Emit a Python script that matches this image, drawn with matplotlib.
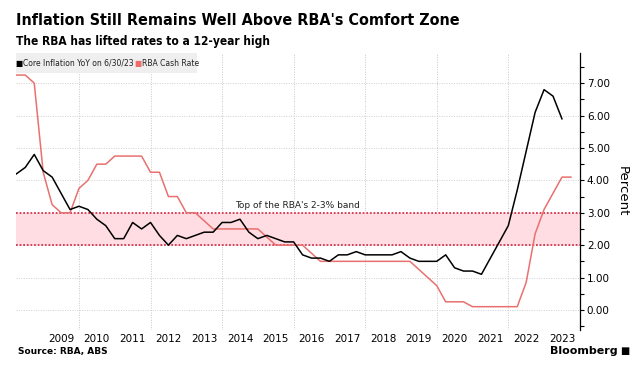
import matplotlib
matplotlib.use("Agg")
import matplotlib.pyplot as plt
from matplotlib.patches import Rectangle
import numpy as np

# quarterly observations, first quarter end = Mar 2008
start_year = 2008.25
core_inflation = [4.2, 4.4, 4.8, 4.3, 4.1, 3.6, 3.1, 3.2, 3.1, 2.8, 2.6, 2.2,
                  2.2, 2.7, 2.5, 2.7, 2.3, 2.0, 2.3, 2.2, 2.3, 2.4, 2.4, 2.7,
                  2.7, 2.8, 2.4, 2.2, 2.3, 2.2, 2.1, 2.1, 1.7, 1.6, 1.6, 1.5,
                  1.7, 1.7, 1.8, 1.7, 1.7, 1.7, 1.7, 1.8, 1.6, 1.5, 1.5, 1.5,
                  1.7, 1.3, 1.2, 1.2, 1.1, 1.6, 2.1, 2.6, 3.7, 4.9, 6.1, 6.8,
                  6.6, 5.9]
cash_rate = [7.25, 7.25, 7.0, 4.25, 3.25, 3.0, 3.0, 3.75, 4.0, 4.5, 4.5, 4.75,
             4.75, 4.75, 4.75, 4.25, 4.25, 3.5, 3.5, 3.0, 3.0, 2.75, 2.5, 2.5,
             2.5, 2.5, 2.5, 2.5, 2.25, 2.0, 2.0, 2.0, 2.0, 1.75, 1.5, 1.5,
             1.5, 1.5, 1.5, 1.5, 1.5, 1.5, 1.5, 1.5, 1.5, 1.25, 1.0, 0.75,
             0.25, 0.25, 0.25, 0.10, 0.10, 0.10, 0.10, 0.10, 0.10, 0.85, 2.35, 3.10,
             3.60, 4.10, 4.10]
band_low, band_high = 2.0, 3.0
year_labels = list(range(2009, 2024))
y_ticks = [0, 1, 2, 3, 4, 5, 6, 7]

t_core = start_year + 0.25 * np.arange(len(core_inflation))
t_cash = start_year + 0.25 * np.arange(len(cash_rate))

fig = plt.figure(figsize=(6.4, 3.71), dpi=100)
ax = fig.add_axes([0.025, 0.1105, 0.881, 0.7465])

ax.axhspan(band_low, band_high, color="#ffdde3", lw=0, zorder=1)
for lvl in (band_low, band_high):
    ax.axhline(lvl, color="#d6334f", lw=1.3, ls=(0, (1, 1)), zorder=2)

ax.plot(t_cash, cash_rate, color="#e8716f", lw=1.1, zorder=3)
ax.plot(t_core, core_inflation, color="black", lw=1.1, zorder=4)

ax.text(2016.1, 3.1, "Top of the RBA's 2-3% band", fontsize=6.5,
        ha="center", va="bottom", color="#222222", zorder=5)

ax.set_xlim(2008.24, 2024.0)
ax.set_ylim(-0.62, 7.93)

ax.set_xticks([y + 0.5 for y in year_labels])
ax.set_xticklabels([str(y) for y in year_labels], fontsize=7.5)
ax.tick_params(axis="x", length=0, pad=3)
for g in range(2010, 2024, 2):
    ax.axvline(g, color="#c8c8c8", lw=0.7, ls=(0, (1, 1.5)), zorder=0)

ax.yaxis.tick_right()
ax.yaxis.set_label_position("right")
ax.set_yticks(y_ticks)
ax.set_yticklabels([f"{v:.2f}" for v in y_ticks], fontsize=7.5)
ax.set_yticks([v + 0.5 for v in range(-1, 8)], minor=True)
ax.tick_params(axis="y", which="both", direction="out", length=3, width=0.8, pad=2)
ax.set_ylabel("Percent", fontsize=9.5, rotation=270, labelpad=14)
for v in y_ticks:
    ax.axhline(v, color="#cfcfcf", lw=0.7, ls=(0, (1, 1.5)), zorder=0)

for s in ("left", "top", "bottom"):
    ax.spines[s].set_visible(False)
ax.spines["right"].set_linewidth(0.9)

# legend box
fig.patches.append(Rectangle((0.025, 0.803), 0.283, 0.054, transform=fig.transFigure,
                             facecolor="#efefef", edgecolor="none", zorder=5))
leg = dict(fontsize=6.1, va="center", zorder=6, fontstretch="condensed")
fig.text(0.0245, 0.829, "\u25a0", color="black", **leg)
fig.text(0.0365, 0.829, "Core Inflation YoY on 6/30/23", color="#222222", **leg)
fig.text(0.210, 0.829, "\u25a0", color="#f06b6b", **leg)
fig.text(0.2225, 0.829, "RBA Cash Rate", color="#222222", **leg)

fig.text(0.025, 0.945, "Inflation Still Remains Well Above RBA's Comfort Zone",
         fontsize=11.5, fontweight="bold", fontstretch="condensed", va="center")
fig.text(0.025, 0.888, "The RBA has lifted rates to a 12-year high",
         fontsize=8.6, fontweight="bold", fontstretch="condensed", va="center")
fig.text(0.028, 0.053, "Source: RBA, ABS", fontsize=6.5, fontweight="bold", va="center")
fig.text(0.965, 0.053, "Bloomberg", fontsize=8, fontweight="bold", ha="right", va="center")
fig.text(0.983, 0.053, "\u25a0", fontsize=7, ha="right", va="center")

fig.savefig("out.png", dpi=100)
